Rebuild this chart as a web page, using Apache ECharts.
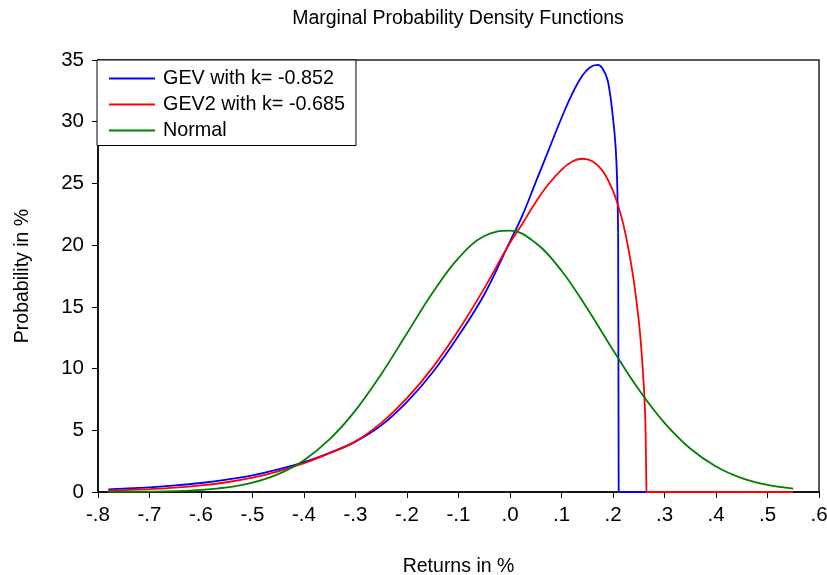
<!DOCTYPE html>
<html><head><meta charset="utf-8">
<script src="https://cdn.jsdelivr.net/npm/echarts@6/dist/echarts.min.js"></script>
<style>html,body{margin:0;padding:0;background:#fff}#c{width:827px;height:575px}</style>
</head><body><div id="c"></div>
<script>
// ---- data ----
const xTickLabels = ['-.8','-.7','-.6','-.5','-.4','-.3','-.2','-.1','.0','.1','.2','.3','.4','.5','.6'];
const yTickLabels = ['0','5','10','15','20','25','30','35'];

const seriesNames = ['GEV with k= -0.852', 'GEV2 with k= -0.685', 'Normal'];

// GEV (blue): smooth body, then vertical drop at the upper bound and flat zero
const gevX = [-0.78,-0.75,-0.70,-0.65,-0.60,-0.55,-0.50,-0.45,-0.40,-0.35,-0.30,-0.25,-0.20,-0.15,-0.10,-0.05,0.00,0.025,0.05,0.075,0.10,0.12,0.14,0.155,0.17,0.18,0.19,0.20,0.205,0.208,0.21];
const gevY = [0.22,0.27,0.38,0.53,0.73,1.0,1.35,1.83,2.42,3.18,4.08,5.4,7.3,9.7,12.65,16.0,20.3,22.5,25.1,27.7,30.3,32.2,33.7,34.4,34.6,34.3,33.3,30.3,28.0,25.2,21.0];
const gevTailX = [0.21,0.211,0.55];
const gevTailY = [21.0,0,0];

// GEV2 (red)
const gev2X = [-0.78,-0.75,-0.70,-0.65,-0.60,-0.55,-0.50,-0.45,-0.40,-0.35,-0.30,-0.25,-0.20,-0.15,-0.10,-0.05,0.00,0.025,0.05,0.075,0.10,0.12,0.14,0.16,0.18,0.20,0.21,0.22,0.23,0.24,0.25,0.255,0.26,0.263];
const gev2Y = [0.12,0.15,0.24,0.36,0.54,0.79,1.16,1.68,2.33,3.15,4.1,5.6,7.6,10.1,13.1,16.5,20.2,21.8,23.5,24.95,26.1,26.75,27.0,26.8,26.0,24.4,23.2,21.7,19.7,17.2,13.9,11.6,8.5,5.6];
const gev2TailX = [0.263,0.265,0.55];
const gev2TailY = [5.6,0,0];

// Normal (green)
const normX = [-0.78,-0.75,-0.70,-0.65,-0.60,-0.55,-0.50,-0.45,-0.40,-0.35,-0.30,-0.25,-0.20,-0.15,-0.10,-0.05,0.00,0.05,0.10,0.15,0.20,0.25,0.30,0.35,0.40,0.45,0.50,0.55];
const normY = [0.01,0.01,0.03,0.07,0.17,0.37,0.76,1.45,2.58,4.28,6.61,9.55,12.86,16.16,18.95,20.74,21.17,20.17,17.93,14.87,11.51,8.31,5.60,3.52,2.07,1.13,0.58,0.28];

// ---- chart ----
const FONT = 'Liberation Sans, Arial, Helvetica, sans-serif';
const zip = (xs, ys) => xs.map((x, i) => [x, ys[i]]);
const colors = ['#0000ff', '#ff0000', '#008000'];

function lineSeries(name, data, color, smooth) {
  return {
    name, type: 'line', data, smooth, symbol: 'none', showSymbol: false,
    lineStyle: { color, width: 1.8 }, itemStyle: { color },
    clip: true, animation: false
  };
}

const chart = echarts.init(document.getElementById('c'), null, { renderer: 'canvas' });
chart.setOption({
  animation: false,
  backgroundColor: '#fff',
  title: {
    text: 'Marginal Probability Density Functions',
    left: 458, top: 9, textAlign: 'center', padding: 0,
    textStyle: { fontSize: 19.5, fontWeight: 'normal', color: '#000', fontFamily: FONT }
  },
  grid: {
    left: 98, top: 60, width: 721, height: 432,
    containLabel: false, outerBoundsMode: 'none',
    show: true, borderColor: '#222', borderWidth: 1.5, backgroundColor: 'transparent'
  },
  legend: {
    data: seriesNames,
    orient: 'vertical', left: 97, top: 60,
    padding: [8.5, 11, 5, 11],
    itemWidth: 46, itemHeight: 14, itemGap: 6,
    itemStyle: { opacity: 0 },
    borderColor: '#000', borderWidth: 1, backgroundColor: '#fff', borderRadius: 0,
    textStyle: { fontSize: 19.8, color: '#000', fontFamily: FONT, padding: [0, 0, 0, 3] },
    z: 10
  },
  xAxis: {
    type: 'value', min: -0.8, max: 0.6, interval: 0.1,
    name: 'Returns in %', nameLocation: 'middle', nameGap: 65,
    nameTextStyle: { fontSize: 19.5, color: '#000', fontFamily: FONT },
    axisLine: { onZero: false, lineStyle: { color: '#000', width: 1.5 } },
    axisTick: { show: true, inside: false, length: 6, lineStyle: { color: '#000' } },
    axisLabel: {
      fontSize: 20.5, color: '#000', fontFamily: FONT, margin: 13,
      formatter: v => xTickLabels[Math.round((v + 0.8) * 10)]
    },
    splitLine: { show: false }
  },
  yAxis: {
    type: 'value', min: 0, max: 35, interval: 5,
    name: 'Probability in %', nameLocation: 'middle', nameGap: 65, nameRotate: 90,
    nameTextStyle: { fontSize: 19.5, color: '#000', fontFamily: FONT },
    axisLine: { show: true, onZero: false, lineStyle: { color: '#000', width: 1.5 } },
    axisTick: { show: true, inside: false, length: 6, lineStyle: { color: '#000' } },
    axisLabel: {
      fontSize: 20.5, color: '#000', fontFamily: FONT, margin: 14,
      formatter: v => yTickLabels[Math.round(v / 5)]
    },
    splitLine: { show: false }
  },
  series: [
    lineSeries(seriesNames[0], zip(gevX, gevY), colors[0], 0.4),
    lineSeries(seriesNames[0], zip(gevTailX, gevTailY), colors[0], false),
    lineSeries(seriesNames[1], zip(gev2X, gev2Y), colors[1], 0.4),
    lineSeries(seriesNames[1], zip(gev2TailX, gev2TailY), colors[1], false),
    lineSeries(seriesNames[2], zip(normX, normY), colors[2], 0.4)
  ]
});
</script>
</body></html>
